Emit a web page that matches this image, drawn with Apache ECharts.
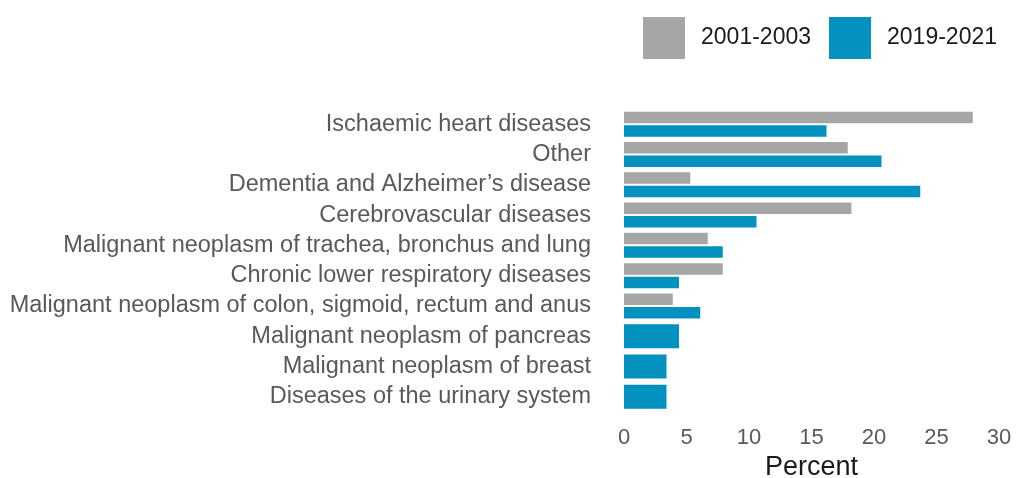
<!DOCTYPE html>
<html>
<head>
<meta charset="utf-8">
<script src="https://cdn.jsdelivr.net/npm/echarts@6/dist/echarts.min.js"></script>
<style>html,body{margin:0;padding:0;background:#fff}#c{width:1018px;height:478px}</style>
</head>
<body>
<div id="c"></div>
<script>
const categories = [
  "Ischaemic heart diseases",
  "Other",
  "Dementia and Alzheimer\u2019s disease",
  "Cerebrovascular diseases",
  "Malignant neoplasm of trachea, bronchus and lung",
  "Chronic lower respiratory diseases",
  "Malignant neoplasm of colon, sigmoid, rectum and anus",
  "Malignant neoplasm of pancreas",
  "Malignant neoplasm of breast",
  "Diseases of the urinary system"
];
// 2001-2003 values (null = not in top ten for that period)
const period2001 = [27.9, 17.9, 5.3, 18.2, 6.7, 7.9, 3.9, null, null, null];
// 2019-2021 values where both periods are present
const period2019 = [16.2, 20.6, 23.7, 10.6, 7.9, 4.4, 6.1, null, null, null];
// 2019-2021 values where only this period is present (drawn full width)
const period2019Only = [null, null, null, null, null, null, null, 4.4, 3.4, 3.4];
const xTicks = [0, 5, 10, 15, 20, 25, 30];

const GREY = '#a6a6a6', BLUE = '#0391bf';
const chart = echarts.init(document.getElementById('c'), null, {renderer: 'canvas'});
const font = 'Liberation Sans, Arial, sans-serif';
chart.setOption({
  animation: false,
  legend: {
    data: ['2001-2003', '2019-2021'],
    right: 16, top: 12,
    itemWidth: 42, itemHeight: 42, itemGap: 18,
    icon: 'rect',
    textStyle: {fontFamily: font, fontSize: 23, color: '#1a1a1a', padding: [0, 0, 0, 11]}
  },
  grid: {left: 624, right: 19, top: 109, bottom: 66, containLabel: false, outerBoundsMode: 'none'},
  xAxis: {
    type: 'value', min: xTicks[0], max: xTicks[xTicks.length - 1], interval: 5,
    axisLine: {show: false}, axisTick: {show: false}, splitLine: {show: false},
    axisLabel: {fontFamily: font, fontSize: 22, color: '#595959', margin: 15},
    name: 'Percent', nameLocation: 'middle', nameGap: 40,
    nameTextStyle: {fontFamily: font, fontSize: 27, color: '#1a1a1a'}
  },
  yAxis: [{
    type: 'category', data: categories, inverse: true,
    axisLine: {show: false}, axisTick: {show: false}, splitLine: {show: false},
    axisLabel: {fontFamily: font, fontSize: 23.5, color: '#595959', margin: 33, interval: 0,
                padding: [3, 0, 0, 0]}
  }, {
    type: 'category', data: categories, inverse: true, show: false
  }],
  series: [
    {name: '2001-2003', type: 'bar', yAxisIndex: 0, data: period2001, barWidth: 11.5, barGap: '17%',
     itemStyle: {color: GREY}},
    {name: '2019-2021', type: 'bar', yAxisIndex: 0, data: period2019, barWidth: 11.5, barGap: '17%',
     itemStyle: {color: BLUE}},
    {name: '2019-2021', type: 'bar', yAxisIndex: 1, data: period2019Only, barWidth: 24,
     itemStyle: {color: BLUE}}
  ]
});
</script>
</body>
</html>
